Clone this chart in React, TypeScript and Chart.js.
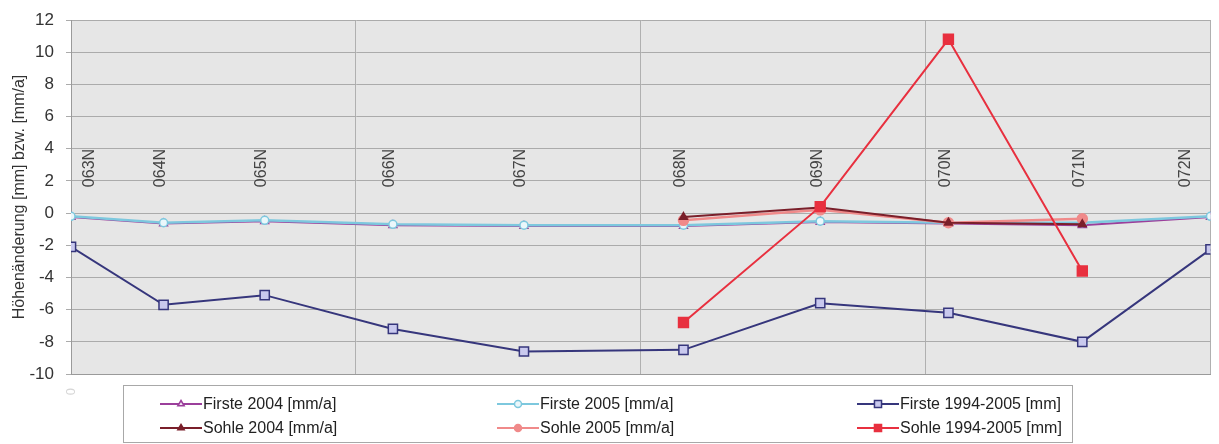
import React, { useEffect, useRef } from 'react';
import { Chart, registerables } from 'chart.js';

Chart.register(...registerables);

// ---- data ----
const stations = ['063N', '064N', '065N', '066N', '067N', '068N', '069N', '070N', '071N', '072N'];
const stationPos = [0, 32.5, 68, 113, 159, 215, 263, 308, 355, 400];
const firste2004 = [-0.25, -0.65, -0.5, -0.75, -0.8, -0.8, -0.55, -0.65, -0.75, -0.25];
const firste2005 = [-0.2, -0.6, -0.45, -0.7, -0.75, -0.75, -0.5, -0.6, -0.6, -0.2];
const firste9405 = [-2.1, -5.7, -5.1, -7.2, -8.6, -8.5, -5.6, -6.2, -8.0, -2.25];
const sohle2004: (number | null)[] = [null, null, null, null, null, -0.25, 0.35, -0.6, -0.7, null];
const sohle2005: (number | null)[] = [null, null, null, null, null, -0.45, 0.2, -0.6, -0.35, null];
const sohle9405: (number | null)[] = [null, null, null, null, null, -6.8, 0.4, 10.8, -3.6, null];
const seriesNames = [
  'Firste 2004 [mm/a]',
  'Firste 2005 [mm/a]',
  'Firste 1994-2005 [mm]',
  'Sohle 2004 [mm/a]',
  'Sohle 2005 [mm/a]',
  'Sohle 1994-2005 [mm]',
];
const yMin = -10;
const yMax = 12;
const yStep = 2;
const xMin = 0;
const xMax = 400;
const xStep = 100;
const stationLabelLevel = 2.8;
const yTitle = 'Höhenänderung [mm] bzw. [mm/a]';

const FONT = "'Liberation Sans', Arial, sans-serif";

const styles = [
  { color: '#9b3f9b', fill: '#f2e6f2', point: 'triangle', radius: 4.5, width: 2, order: 6 },
  { color: '#7dc8de', fill: '#eaf7fb', point: 'circle', radius: 4, width: 2.5, order: 5 },
  { color: '#36367c', fill: '#c9c9ee', point: 'rect', radius: 6.5, width: 2, order: 4 },
  { color: '#7a1f2a', fill: '#7a1f2a', point: 'triangle', radius: 4.5, width: 2, order: 2 },
  { color: '#f08a8a', fill: '#f08a8a', point: 'circle', radius: 5, width: 2.5, order: 3 },
  { color: '#e8303f', fill: '#e8303f', point: 'rect', radius: 7, width: 2, order: 1 },
];

const seriesValues = [firste2004, firste2005, firste9405, sohle2004, sohle2005, sohle9405];

function drawMarker(ctx: CanvasRenderingContext2D, style: string, x: number, y: number, r: number, fill: string, stroke: string) {
  ctx.beginPath();
  if (style === 'triangle') {
    const h = r * 1.5;
    ctx.moveTo(x, y - r);
    ctx.lineTo(x + r * 0.9, y + h - r);
    ctx.lineTo(x - r * 0.9, y + h - r);
    ctx.closePath();
  } else if (style === 'rect') {
    const s = r * Math.SQRT1_2;
    ctx.rect(x - s, y - s, 2 * s, 2 * s);
  } else {
    ctx.arc(x, y, r, 0, Math.PI * 2);
  }
  ctx.fillStyle = fill;
  ctx.fill();
  ctx.lineWidth = 1.5;
  ctx.strokeStyle = stroke;
  ctx.stroke();
}

const bgPlugin = {
  id: 'bg',
  beforeDraw(chart: any) {
    const { ctx, chartArea } = chart;
    ctx.save();
    ctx.fillStyle = '#ffffff';
    ctx.fillRect(0, 0, chart.width, chart.height);
    ctx.fillStyle = '#e6e6e6';
    ctx.fillRect(chartArea.left, chartArea.top, chartArea.right - chartArea.left, chartArea.bottom - chartArea.top);
    ctx.restore();
  },
};

const stationLabelPlugin = {
  id: 'stationLabels',
  beforeDatasetsDraw(chart: any) {
    const { ctx, chartArea } = chart;
    const xs = chart.scales.x;
    const ys = chart.scales.y;
    ctx.save();
    ctx.font = `16px ${FONT}`;
    ctx.fillStyle = '#444';
    ctx.textAlign = 'center';
    ctx.textBaseline = 'middle';
    const py = ys.getPixelForValue(stationLabelLevel);
    stations.forEach((name, i) => {
      let px = xs.getPixelForValue(stationPos[i]) - 3;
      px = Math.max(chartArea.left + 19, Math.min(chartArea.right - 25, px));
      ctx.save();
      ctx.translate(px, py);
      ctx.rotate(-Math.PI / 2);
      ctx.fillText(name, 0, 0);
      ctx.restore();
    });
    ctx.restore();
  },
};

const legendPlugin = {
  id: 'customLegend',
  afterDraw(chart: any) {
    const { ctx } = chart;
    const boxL = 123, boxR = 1073, boxT = 385, boxB = 443;
    ctx.save();
    ctx.fillStyle = '#ffffff';
    ctx.fillRect(boxL, boxT, boxR - boxL, boxB - boxT);
    ctx.strokeStyle = '#a8a8a8';
    ctx.lineWidth = 1;
    ctx.strokeRect(boxL + 0.5, boxT + 0.5, boxR - boxL - 1, boxB - boxT - 1);
    const colX = [160, 497, 857];
    const rowY = [404, 428];
    ctx.font = `16px ${FONT}`;
    ctx.textBaseline = 'middle';
    ctx.textAlign = 'left';
    seriesNames.forEach((name, i) => {
      const st = styles[i];
      const cx = colX[i % 3];
      const cy = rowY[Math.floor(i / 3)];
      ctx.strokeStyle = st.color;
      ctx.lineWidth = 2;
      ctx.beginPath();
      ctx.moveTo(cx, cy);
      ctx.lineTo(cx + 42, cy);
      ctx.stroke();
      drawMarker(ctx, st.point, cx + 21, cy, st.point === 'rect' ? 5 : 3.5, st.fill, st.color);
      ctx.fillStyle = '#222';
      ctx.fillText(name, cx + 43, cy + 1);
    });
    ctx.restore();
  },
};

export default function App() {
  const canvasRef = useRef<HTMLCanvasElement | null>(null);

  useEffect(() => {
    const canvas = canvasRef.current;
    if (!canvas) return;
    const datasets = seriesNames.map((name, i) => {
      const st = styles[i];
      return {
        label: name,
        data: stationPos.map((x, j) => ({ x, y: seriesValues[i][j] })),
        borderColor: st.color,
        backgroundColor: st.fill,
        borderWidth: st.width,
        pointStyle: st.point,
        pointRadius: st.radius,
        pointBorderWidth: 1.5,
        pointBorderColor: st.color,
        pointBackgroundColor: st.fill,
        order: st.order,
        spanGaps: false,
        tension: 0,
      };
    });
    const chart = new Chart(canvas, {
      type: 'line',
      data: { datasets: datasets as any },
      options: {
        animation: false,
        responsive: false,
        events: [],
        layout: { padding: { top: 20, right: 0, left: 0, bottom: 0 } },
        plugins: { legend: { display: false }, tooltip: { enabled: false } },
        scales: {
          x: {
            type: 'linear',
            min: xMin,
            max: xMax,
            afterFit: (s: any) => {
              s.height = 70;
              s.paddingLeft = 0;
              s.paddingRight = 0;
            },
            ticks: {
              stepSize: xStep,
              autoSkip: false,
              minRotation: 90,
              maxRotation: 90,
              padding: 14,
              color: '#d6d6d6',
              font: { family: FONT, size: 13 },
              callback: (v: any) => (Number(v) === 0 ? '0' : ''),
            },
            grid: { color: '#b0b0b0', lineWidth: 1, drawTicks: false },
            border: { color: '#9a9a9a' },
          },
          y: {
            type: 'linear',
            min: yMin,
            max: yMax,
            afterFit: (s: any) => {
              s.width = 71;
              s.paddingTop = 0;
              s.paddingBottom = 0;
            },
            ticks: {
              stepSize: yStep,
              padding: 12,
              color: '#333',
              font: { family: FONT, size: 17 },
            },
            grid: { color: '#ababab', lineWidth: 1, tickLength: 5, drawTicks: true },
            border: { color: '#9a9a9a' },
            title: {
              display: true,
              text: yTitle,
              color: '#333',
              font: { family: FONT, size: 16 },
              padding: { top: 10, bottom: 0 },
            },
          },
        },
      },
      plugins: [bgPlugin, stationLabelPlugin, legendPlugin],
    });
    return () => chart.destroy();
  }, []);

  return (
    <div style={{ position: 'fixed', left: 0, top: 0, width: 1219, height: 444, background: '#fff' }}>
      <canvas ref={canvasRef} width={1219} height={444} style={{ display: 'block' }} />
    </div>
  );
}
